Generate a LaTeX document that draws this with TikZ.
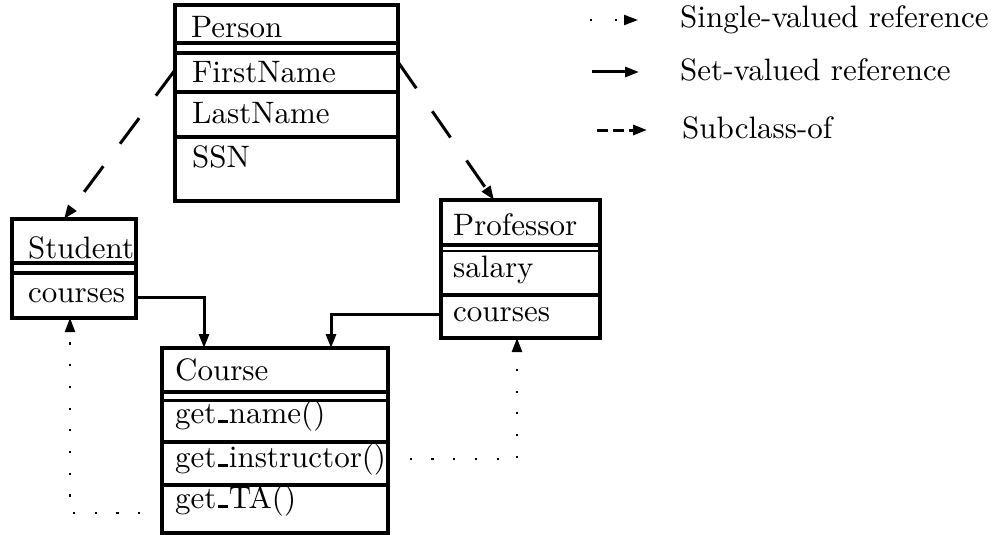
\documentclass[tikz,border=0pt]{standalone}
\usepackage{fontspec}
\setmainfont{lmroman10-regular.otf}
\usetikzlibrary{arrows.meta}
\newcommand\usc{\kern.05em\rule{.32em}{.09em}\kern.03em}
\begin{document}
\begin{tikzpicture}[x=1pt,y=-1pt,
  box/.style={draw, line width=4pt, inner sep=0pt, outer sep=0pt, anchor=north west},
  lbl/.style={anchor=base west, inner sep=0pt, font=\fontsize{31}{37}\selectfont},
  div/.style={line width=4pt},
  tip/.style={-{Triangle[length=14pt,width=10pt]}},
  setref/.style={tip, line width=3pt},
  singleref/.style={tip, line width=2.2pt, dash pattern=on 2.2pt off 19.5pt},
  subref/.style={tip, line width=3pt, dash pattern=on 32pt off 28pt},
  legsub/.style={tip, line width=3pt, dash pattern=on 11pt off 5pt}]
\useasboundingbox (0,0) rectangle (999,535);

% Person
\node[box, minimum width=223pt, minimum height=196pt] (person) at (175,5) {};
\foreach \yy in {43,53,92,137} \draw[div] (person.west |- 0,\yy) -- (person.east |- 0,\yy);
\node[lbl] (tPerson) at (191,38) {Person};
\node[lbl] (tFirst) at (192,82) {FirstName};
\node[lbl] (tLast) at (192,124) {LastName};
\node[lbl] (tSSN) at (192,167) {SSN};

% Student
\node[box, minimum width=124pt, minimum height=99pt] (student) at (12,219) {};
\foreach \yy in {263,273} \draw[div] (student.west |- 0,\yy) -- (student.east |- 0,\yy);
\node[lbl] (tStudent) at (28,258) {Student};
\node[lbl] (tScourses) at (28,302) {courses};

% Professor
\node[box, minimum width=159pt, minimum height=138pt] (prof) at (441,200) {};
\draw[div] (prof.west |- 0,245) -- (prof.east |- 0,245);
\draw[line width=2.5pt] (prof.west |- 0,251) -- (prof.east |- 0,251);
\draw[div] (prof.west |- 0,295) -- (prof.east |- 0,295);
\node[lbl] (tProf) at (453,235) {Professor};
\node[lbl] (tSalary) at (453,277) {salary};
\node[lbl] (tPcourses) at (453,321) {courses};

% Course
\node[box, minimum width=226pt, minimum height=185pt] (course) at (162,348) {};
\foreach \yy in {392,442,485} \draw[div] (course.west |- 0,\yy) -- (course.east |- 0,\yy);
\draw[line width=3pt] (course.west |- 0,400) -- (course.east |- 0,400);
\node[lbl] (tCourse) at (175,380) {Course};
\node[lbl] (tName) at (175,423) {get\usc name()};
\node[lbl] (tInstr) at (175,467) {get\usc instructor()};
\node[lbl] (tTA) at (175,508) {get\usc TA()};

% set-valued references
\coordinate (sOut) at (student.east |- 0,297);
\coordinate (cIn1) at (course.north -| 204,0);
\draw[setref] (sOut) -| (cIn1);
\coordinate (pOut) at (prof.west |- 0,314);
\coordinate (cIn2) at (course.north -| 331,0);
\draw[setref] (pOut) -| (cIn2);

% single-valued references
\coordinate (taOut) at (course.west |- 0,513);
\coordinate (sIn) at (student.south -| 70,0);
\draw[singleref] (taOut) -| (sIn);
\coordinate (inOut) at (course.east |- 0,459);
\coordinate (pIn) at (prof.south -| 517,0);
\draw[singleref] (inOut) -| (pIn);

% subclass-of
\coordinate (perL) at (person.west |- 0,70);
\coordinate (sTop) at (student.north -| 64,0);
\draw[subref] (perL) -- (sTop);
\coordinate (perR) at (person.east |- 0,62);
\coordinate (pTop) at (prof.north -| 494,0);
\draw[subref] (perR) -- (pTop);

% legend
\coordinate (l1a) at (590,20);
\coordinate (l1b) at (638,20);
\draw[singleref, dash pattern=on 2.2pt off 23pt] (l1a) -- (l1b);
\node[lbl] (leg1) at (680,28) {Single-valued reference};
\coordinate (l2a) at (592,72);
\coordinate (l2b) at (639,72);
\draw[setref] (l2a) -- (l2b);
\node[lbl] (leg2) at (680,81) {Set-valued reference};
\coordinate (l3a) at (597,130);
\coordinate (l3b) at (647,130);
\draw[legsub] (l3a) -- (l3b);
\node[lbl] (leg3) at (682,139) {Subclass-of};
\end{tikzpicture}
\end{document}
